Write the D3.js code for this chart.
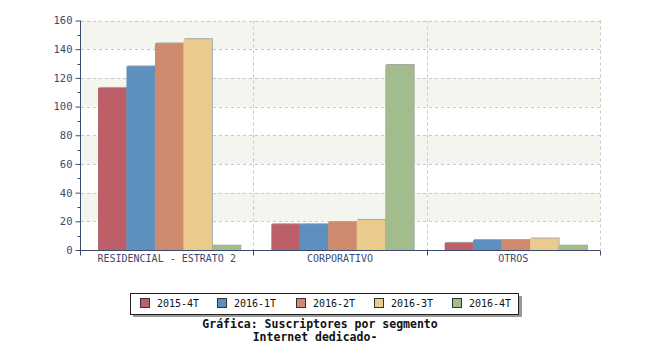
<!DOCTYPE html>
<html><head><meta charset="utf-8">
<script src="https://cdn.jsdelivr.net/npm/d3@7"></script>
<style>body{margin:0;background:#fff}svg{display:block}</style>
</head><body>
<svg id="c" width="650" height="350"></svg>
<script>
const categories = ["RESIDENCIAL - ESTRATO 2", "CORPORATIVO", "OTROS"];
const series = ["2015-4T", "2016-1T", "2016-2T", "2016-3T", "2016-4T"];
const s2015_4T = [113, 18, 5];
const s2016_1T = [128, 18, 7];
const s2016_2T = [144, 19.5, 7];
const s2016_3T = [147, 21, 8];
const s2016_4T = [3, 129, 3];
const yTicks = [0, 20, 40, 60, 80, 100, 120, 140, 160];
const colors = ["#bd5f69", "#5d8fbf", "#cf8a6d", "#eacb8c", "#a3bc8b"];
const titleLines = ["Gráfica: Suscriptores por segmento", "Internet dedicado-"];

const values = [s2015_4T, s2016_1T, s2016_2T, s2016_3T, s2016_4T];
const svg = d3.select("#c");
const axisColor = "#3c4a70";
const mono = "'DejaVu Sans Mono', monospace";

const L = 80, R = 600, T = 20.5, B = 250;
const x0 = d3.scaleBand().domain(categories).range([L, R]).padding(0);
const bw = x0.bandwidth();
const x1 = d3.scaleBand().domain(series).range([bw * 0.104, bw * 0.925]).padding(0);
const y = d3.scaleLinear().domain([0, 160]).range([B, T]);

// alternating background bands
const bands = d3.range(0, yTicks.length - 1).filter(i => i % 2 === 1);
svg.append("g").selectAll("rect").data(bands).join("rect")
  .attr("x", L + 1).attr("width", R - L - 1)
  .attr("y", i => y(yTicks[i + 1])).attr("height", i => y(yTicks[i]) - y(yTicks[i + 1]))
  .attr("fill", "#f5f5f0");

// grid
const grid = svg.append("g").attr("stroke", "#c8c8c8").attr("stroke-dasharray", "3,3").attr("stroke-width", 1);
grid.selectAll("line.h").data(yTicks.slice(1)).join("line")
  .attr("x1", L + 1).attr("x2", R).attr("y1", d => Math.round(y(d)) + 0.5).attr("y2", d => Math.round(y(d)) + 0.5);
grid.selectAll("line.v").data(categories).join("line")
  .attr("x1", d => Math.round(x0(d) + bw) + 0.5).attr("x2", d => Math.round(x0(d) + bw) + 0.5)
  .attr("y1", T).attr("y2", B);

// bars
const gs = svg.append("g").selectAll("g").data(categories).join("g")
  .attr("transform", d => `translate(${x0(d)},0)`);
series.forEach((s, si) => {
  gs.append("rect")
    .attr("x", (d, ci) => x1(s) + 1).attr("width", x1.bandwidth())
    .attr("y", (d, ci) => y(values[si][ci]) - 1).attr("height", (d, ci) => B - y(values[si][ci]) + 1)
    .attr("fill", "#a8a8a8");
  gs.append("rect")
    .attr("x", (d, ci) => x1(s)).attr("width", x1.bandwidth())
    .attr("y", (d, ci) => y(values[si][ci])).attr("height", (d, ci) => B - y(values[si][ci]))
    .attr("fill", colors[si]);
});

// y axis
const yMinor = d3.range(10, 160, 20);
const ya = svg.append("g").attr("transform", `translate(${L + 0.5},0)`)
  .call(d3.axisLeft(y).tickValues(yTicks).tickSize(5).tickPadding(3));
ya.select(".domain").attr("stroke", axisColor).attr("d", `M0,${T}V${B}`);
ya.selectAll(".tick line").attr("stroke", axisColor);
ya.selectAll(".tick text").attr("fill", axisColor).attr("font-family", mono).attr("font-size", 10.5);
ya.selectAll("line.minor").data(yMinor).join("line").attr("class", "minor")
  .attr("x1", -3).attr("x2", 0).attr("y1", d => Math.round(y(d)) + 0.5).attr("y2", d => Math.round(y(d)) + 0.5)
  .attr("stroke", axisColor);

// x axis
const xa = svg.append("g").attr("transform", `translate(0,${B + 0.5})`)
  .call(d3.axisBottom(x0).tickSize(0).tickPadding(4));
xa.select(".domain").attr("stroke", axisColor).attr("d", `M${L},0H${R}`);
xa.selectAll(".tick text").attr("fill", axisColor).attr("font-family", mono).attr("font-size", 10);
const xTickPos = [L].concat(categories.map(c => x0(c) + bw));
xa.selectAll("line.bt").data(xTickPos).join("line").attr("class", "bt")
  .attr("x1", d => Math.round(d) + 0.5).attr("x2", d => Math.round(d) + 0.5)
  .attr("y1", 0).attr("y2", 5).attr("stroke", axisColor);

// legend
const lg = svg.append("g");
lg.append("rect").attr("x", 133).attr("y", 296).attr("width", 389).attr("height", 21).attr("fill", "#999");
lg.append("rect").attr("x", 130.5).attr("y", 293.5).attr("width", 388).attr("height", 21)
  .attr("fill", "#fff").attr("stroke", "#222");
const lx = [140, 217, 296, 374, 452];
const items = lg.selectAll("g.it").data(series).join("g").attr("class", "it")
  .attr("transform", (d, i) => `translate(${lx[i]},0)`);
items.append("rect").attr("x", 0.5).attr("y", 298.5).attr("width", 9).attr("height", 9)
  .attr("fill", (d, i) => colors[i]).attr("stroke", "#333");
items.append("text").attr("x", 17).attr("y", 307).text(d => d)
  .attr("font-family", mono).attr("font-size", 10).attr("fill", "#111");

// title
svg.append("g").selectAll("text").data(titleLines).join("text")
  .attr("x", (d, i) => i === 0 ? 320 : 315).attr("y", (d, i) => 328 + i * 13)
  .attr("text-anchor", "middle").attr("font-family", mono).attr("font-weight", "bold")
  .attr("font-size", 11.5).attr("fill", "#111").text(d => d);
</script>
</body></html>
